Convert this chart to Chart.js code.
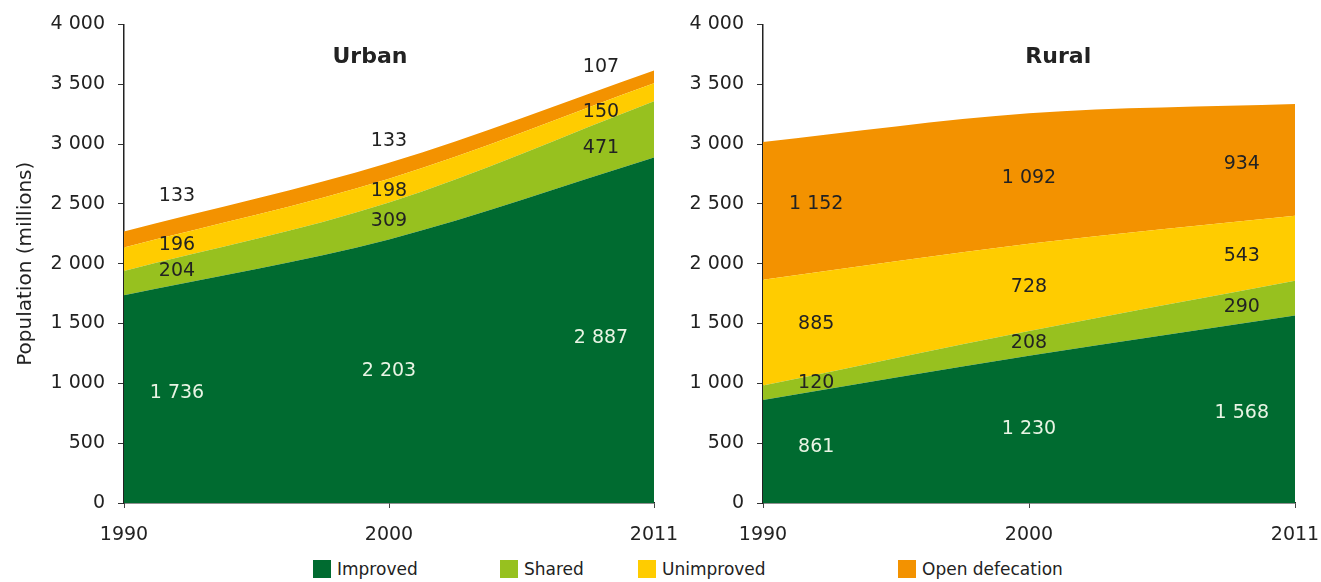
<!DOCTYPE html>
<html>
<head>
<meta charset="utf-8">
<script src="https://cdn.jsdelivr.net/npm/chart.js@4.4.1/dist/chart.umd.min.js"></script>
<style>
  body { margin: 0; background: #fff; width: 1321px; height: 582px; position: relative; overflow: hidden; font-family: 'DejaVu Sans', sans-serif; }
  #urbanChart { position: absolute; left: 0; top: 0; }
  #ruralChart { position: absolute; left: 680px; top: 0; }
  .item { position: absolute; top: 560px; height: 18px; display: flex; align-items: center; font-size: 17px; color: #222; white-space: nowrap; }
  .item span.box { width: 18px; height: 18px; margin-right: 6px; display: inline-block; }
</style>
</head>
<body>
<canvas id="urbanChart" width="680" height="550"></canvas>
<canvas id="ruralChart" width="641" height="550"></canvas>
<div id="legend"></div>
<script>
const years = ['1990', '2000', '2011'];
const seriesNames = ['Improved', 'Shared', 'Unimproved', 'Open defecation'];
const colors = ['#006b30', '#97c11f', '#ffcc00', '#f39200'];

const urbanImproved = [1736, 2203, 2887];
const urbanShared = [204, 309, 471];
const urbanUnimproved = [196, 198, 150];
const urbanOpen = [133, 133, 107];

const ruralImproved = [861, 1230, 1568];
const ruralShared = [120, 208, 290];
const ruralUnimproved = [885, 728, 543];
const ruralOpen = [1152, 1092, 934];

const yTicks = [0, 500, 1000, 1500, 2000, 2500, 3000, 3500, 4000];

// where along the x axis the value labels sit (category index, fractional)
const labelSpots = [0.2, 1.0, 1.8];

const darkText = '#222';
const lightText = '#e8f4e4';

function fmt(v) {
  if (v >= 1000) return Math.floor(v / 1000) + ' ' + String(v % 1000).padStart(3, '0');
  return String(v);
}

function valueAt(arr, pos) {
  const i = Math.min(Math.floor(pos), arr.length - 2);
  const t = pos - i;
  return arr[i] + (arr[i + 1] - arr[i]) * t;
}

const stackLabels = {
  id: 'stackLabels',
  afterDatasetsDraw(chart, args, opts) {
    const { ctx, chartArea, scales: { x, y } } = chart;
    ctx.save();
    ctx.textAlign = 'center';
    ctx.textBaseline = 'middle';
    ctx.font = '19px "DejaVu Sans"';
    const n = chart.data.datasets.length;
    labelSpots.forEach(pos => {
      let base = 0;
      const idx = Math.round(pos);
      chart.data.datasets.forEach((ds, i) => {
        const v = valueAt(ds.data, pos);
        const top = base + v;
        let py = y.getPixelForValue((base + top) / 2);
        if (opts.outsideTop && i === n - 1) py = y.getPixelForValue(top) - 22;
        ctx.fillStyle = i === 0 ? lightText : darkText;
        ctx.fillText(fmt(ds.data[idx]), x.getPixelForValue(pos), py);
        base = top;
      });
    });
    ctx.font = 'bold 22px "DejaVu Sans"';
    ctx.fillStyle = darkText;
    ctx.fillText(opts.title, chartArea.left + opts.titleFrac * chartArea.width, 57);
    ctx.restore();
  }
};

function makeChart(id, data, opts) {
  const datasets = data.map((d, i) => ({
    label: seriesNames[i],
    data: d,
    backgroundColor: colors[i],
    borderColor: 'rgba(0,0,0,0)',
    borderWidth: 0,
    pointRadius: 0,
    fill: i === 0 ? 'origin' : '-1',
    cubicInterpolationMode: 'monotone'
  }));
  return new Chart(document.getElementById(id), {
    type: 'line',
    data: { labels: years, datasets: datasets },
    plugins: [stackLabels],
    options: {
      responsive: false,
      animation: false,
      layout: { padding: { top: 19, right: 26, left: 0, bottom: 0 } },
      plugins: {
        legend: { display: false },
        tooltip: { enabled: false },
        stackLabels: { title: opts.title, titleFrac: opts.titleFrac, outsideTop: opts.outsideTop }
      },
      scales: {
        x: {
          type: 'category',
          offset: false,
          grid: { drawOnChartArea: false, drawTicks: true, tickLength: 5, color: '#444' },
          border: { display: true, color: '#222', width: 1.5 },
          ticks: { color: darkText, font: { family: 'DejaVu Sans', size: 19 }, padding: 16, maxRotation: 0 },
          afterFit: s => { s.height = 47; s.paddingLeft = 0; s.paddingRight = 0; }
        },
        y: {
          stacked: true,
          min: 0,
          max: 4000,
          afterBuildTicks: s => { s.ticks = yTicks.map(v => ({ value: v })); },
          grid: { drawOnChartArea: false, drawTicks: true, tickLength: 6, color: '#333' },
          border: { display: true, color: '#222', width: 1.5 },
          ticks: { color: darkText, font: { family: 'DejaVu Sans', size: 19 }, padding: 13, callback: v => fmt(v) },
          title: {
            display: opts.yTitle,
            text: 'Population (millions)',
            color: darkText,
            font: { family: 'DejaVu Sans', size: 20 },
            padding: { top: 14, bottom: 0 }
          },
          afterFit: s => { s.width = opts.yWidth; }
        }
      }
    }
  });
}

makeChart('urbanChart', [urbanImproved, urbanShared, urbanUnimproved, urbanOpen],
  { title: 'Urban', titleFrac: 0.464, outsideTop: true, yTitle: true, yWidth: 124 });
makeChart('ruralChart', [ruralImproved, ruralShared, ruralUnimproved, ruralOpen],
  { title: 'Rural', titleFrac: 0.555, outsideTop: false, yTitle: false, yWidth: 83 });

// legend
const legendX = [313, 500, 638, 898];
const legend = document.getElementById('legend');
seriesNames.forEach((name, i) => {
  const el = document.createElement('div');
  el.className = 'item';
  el.style.left = legendX[i] + 'px';
  el.innerHTML = '<span class="box" style="background:' + colors[i] + '"></span>' + name;
  legend.appendChild(el);
});
</script>
</body>
</html>
